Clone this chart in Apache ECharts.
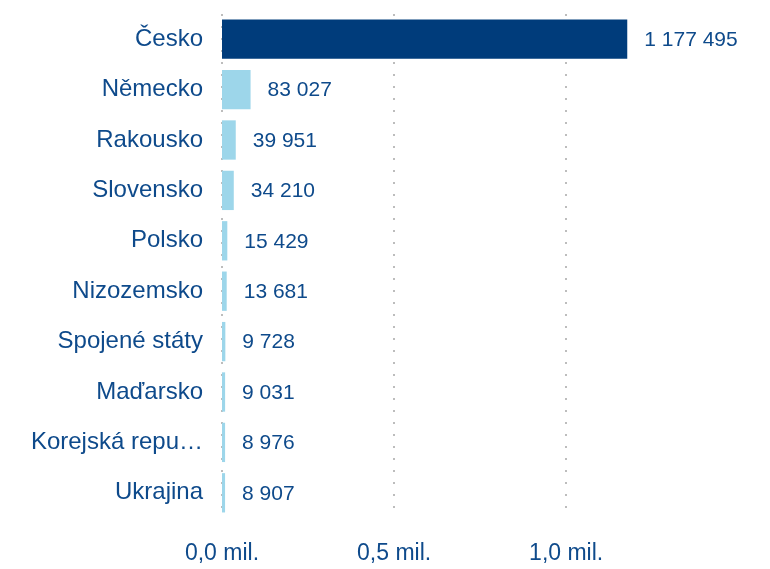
<!DOCTYPE html>
<html>
<head>
<meta charset="utf-8">
<script src="https://cdn.jsdelivr.net/npm/echarts@6/dist/echarts.min.js"></script>
<style>
  html, body { margin: 0; padding: 0; background: #fff; }
  #chart { width: 770px; height: 569px; }
</style>
</head>
<body>
<div id="chart"></div>
<script>
var countries = ['Česko', 'Německo', 'Rakousko', 'Slovensko', 'Polsko',
  'Nizozemsko', 'Spojené státy', 'Maďarsko', 'Korejská republika', 'Ukrajina'];
var visitors = [1177495, 83027, 39951, 34210, 15429, 13681, 9728, 9031, 8976, 8907];

var textColor = '#0e4a8b';
var darkBar = '#003c7b';
var lightBar = '#9dd6ea';

function spaced(n) {
  return String(n).replace(/\B(?=(\d{3})+(?!\d))/g, ' ');
}

var myChart = echarts.init(document.getElementById('chart'));

var option = {
  animation: false,
  grid: { left: 222, right: 135, top: 14, bottom: 51 },
  xAxis: {
    type: 'value',
    min: 0,
    max: 1200000,
    interval: 500000,
    axisLine: { show: false },
    axisTick: { show: false },
    splitLine: {
      show: true,
      showMaxLine: false,
      lineStyle: { type: [2, 10], color: '#bdbdbd', width: 2 }
    },
    axisLabel: {
      showMaxLabel: false,
      margin: 24,
      color: textColor,
      fontFamily: 'Liberation Sans',
      fontSize: 23,
      formatter: function (v) {
        return (v / 1000000).toFixed(1).replace('.', ',') + ' mil.';
      }
    }
  },
  yAxis: {
    type: 'category',
    inverse: true,
    data: countries,
    axisLine: { show: false },
    axisTick: { show: false },
    axisLabel: {
      margin: 19,
      color: textColor,
      fontFamily: 'Liberation Sans',
      fontSize: 24,
      width: 182,
      overflow: 'truncate',
      ellipsis: '…'
    }
  },
  series: [{
    type: 'bar',
    data: visitors,
    barCategoryGap: '22%',
    itemStyle: {
      color: function (p) { return p.dataIndex === 0 ? darkBar : lightBar; }
    },
    label: {
      show: true,
      position: 'right',
      distance: 17,
      offset: [0, 1],
      color: textColor,
      fontFamily: 'Liberation Sans',
      fontSize: 21,
      formatter: function (p) { return spaced(p.value); }
    }
  }]
};

myChart.setOption(option);
</script>
</body>
</html>
